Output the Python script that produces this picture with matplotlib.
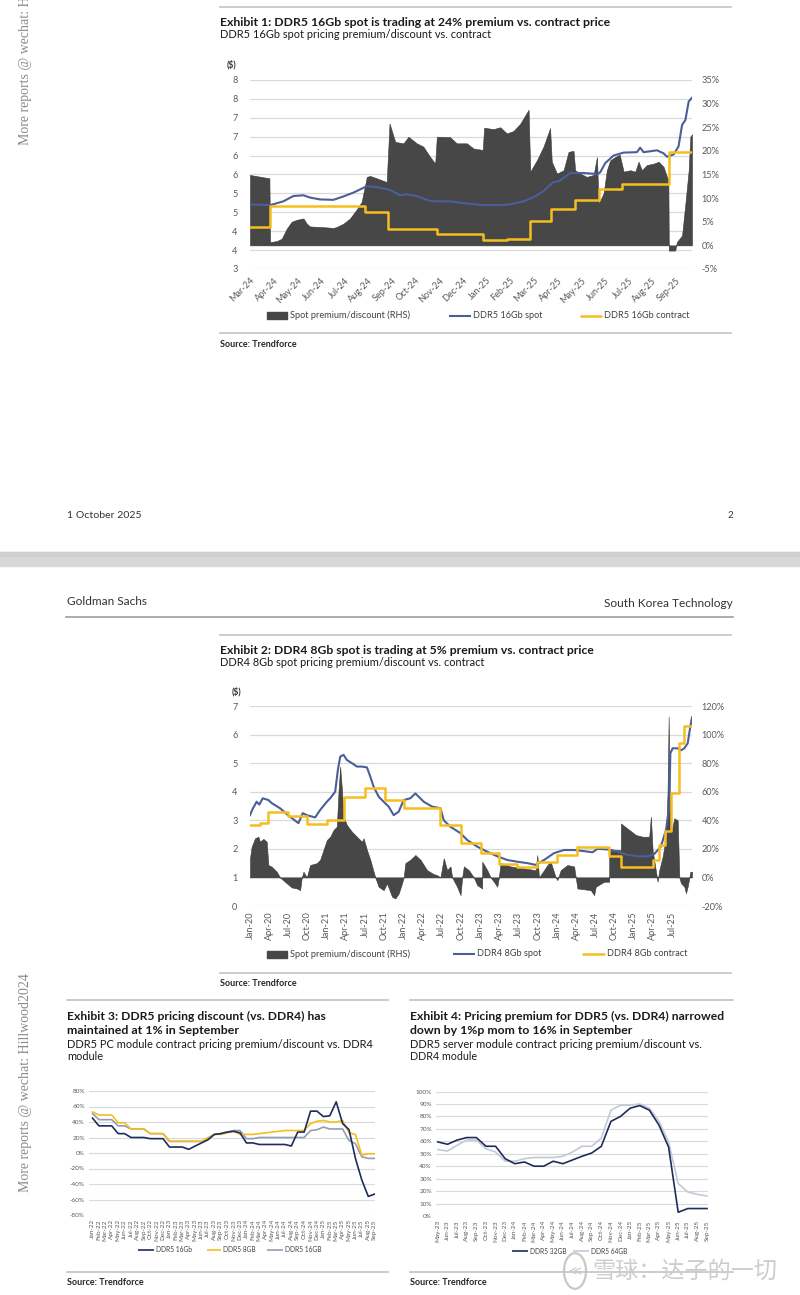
import numpy as np
import pandas as pd
import matplotlib
matplotlib.use("Agg")
import matplotlib.pyplot as plt
from matplotlib.lines import Line2D
from matplotlib.patches import Rectangle, Circle

plt.rcParams["font.family"] = ["Lato", "DejaVu Sans"]

# ---------------- data ----------------
# Exhibit 1: DDR5 16Gb, x = months since Mar-24
ex1_labels = pd.date_range("2024-03-01", "2025-09-01", freq="MS").strftime("%b-%y")
ex1_end = 18.69
ex1_spot_t = [0.0, 0.85, 1.41, 1.83, 2.26, 2.54, 2.96, 3.53, 3.95, 4.37, 4.94, 5.36, 5.92, 6.35,
              6.63, 7.05, 7.62, 7.90, 8.46, 9.03, 9.87, 10.58, 11.0, 11.57, 11.99, 12.41, 12.83,
              13.05, 13.26, 13.54, 14.1, 14.53, 14.67, 14.81, 15.02, 15.37, 15.80, 16.36, 16.5,
              16.64, 17.21, 17.49, 17.63, 17.91, 18.12, 18.27, 18.41, 18.55, 18.69]
ex1_spot = [4.71, 4.69, 4.79, 4.93, 4.95, 4.89, 4.84, 4.83, 4.92, 5.02, 5.19, 5.17, 5.09, 4.95,
            4.98, 4.93, 4.80, 4.79, 4.79, 4.74, 4.69, 4.69, 4.71, 4.79, 4.90, 5.06, 5.30, 5.32,
            5.41, 5.54, 5.54, 5.52, 5.50, 5.56, 5.80, 6.00, 6.08, 6.09, 6.21, 6.09, 6.14, 6.06,
            5.97, 6.03, 6.24, 6.81, 6.94, 7.43, 7.53]
ex1_contract_t = [0.0, 0.85, 4.87, 5.85, 7.90, 9.87, 10.86, 11.82, 12.72, 13.75, 14.74, 15.75, 17.70]
ex1_contract = [4.10, 4.67, 4.51, 4.05, 3.92, 3.76, 3.80, 4.27, 4.60, 4.82, 5.11, 5.25, 6.09]
ex1_prem_t = [0.0, 0.82, 0.85, 1.13, 1.34, 1.55, 1.76, 1.97, 2.26, 2.40, 2.54, 2.96, 3.53, 3.67,
              3.95, 4.23, 4.51, 4.72, 4.94, 5.08, 5.36, 5.78, 5.90, 6.14, 6.49, 6.70, 7.05, 7.33,
              7.62, 7.83, 7.90, 8.46, 8.74, 9.17, 9.45, 9.84, 9.90, 10.30, 10.58, 10.86, 11.14,
              11.42, 11.78, 11.85, 12.13, 12.41, 12.69, 12.76, 12.98, 13.26, 13.47, 13.68, 13.75,
              13.96, 14.24, 14.53, 14.67, 14.74, 14.95, 15.09, 15.23, 15.44, 15.63, 15.80, 16.08,
              16.29, 16.43, 16.57, 16.78, 17.07, 17.28, 17.49, 17.63, 17.69, 17.71, 17.98, 18.05,
              18.27, 18.41, 18.55, 18.62, 18.69]
ex1_prem = [14.9, 14.2, 0.7, 0.9, 1.4, 3.5, 5.0, 5.4, 5.7, 4.6, 4.0, 3.9, 3.7, 3.9, 4.6, 5.7, 7.6,
            9.2, 14.5, 14.7, 14.2, 13.4, 25.8, 21.9, 21.6, 23.0, 21.6, 20.9, 18.7, 17.3, 23.0, 22.9,
            21.6, 21.6, 20.5, 20.2, 24.9, 24.6, 25.0, 23.7, 24.2, 25.7, 28.7, 15.6, 18.0, 20.9,
            24.8, 17.7, 15.2, 15.9, 19.8, 20.0, 15.9, 15.2, 14.5, 14.9, 18.7, 8.8, 11.0, 15.9, 18.0,
            18.7, 19.2, 15.6, 15.9, 15.6, 17.7, 15.9, 17.0, 17.3, 17.7, 16.6, 14.5, 14.0, -1.1,
            -1.1, 0.7, 2.1, 8.8, 15.9, 23.0, 23.5]

# Exhibit 2: DDR4 8Gb, x = months since Jan-20
ex2_labels = pd.date_range("2020-01-01", "2025-07-01", freq="QS").strftime("%b-%y")
ex2_end = 69.12
ex2_spot_t = [0, 0.42, 1.04, 1.46, 1.99, 2.87, 3.40, 4.70, 6.27, 7.58, 8.25, 8.88, 10.19, 10.97,
              12.02, 12.54, 13.32, 13.74, 14.11, 14.63, 15.15, 15.94, 16.72, 17.50, 18.29, 18.81,
              19.33, 20.11, 20.90, 21.68, 22.47, 23.25, 24.03, 25.08, 25.86, 27.17, 28.47, 29.78,
              30.30, 31.35, 32.92, 33.96, 35.53, 37.10, 38.66, 40.23, 41.80, 43.36, 44.67, 45.98,
              47.54, 49.11, 50.68, 52.25, 53.55, 54.34, 55.90, 57.47, 59.04, 60.61, 62.17, 63.22,
              64.26, 65.05, 65.57, 65.73, 66.09, 66.88, 67.40, 67.92, 68.44, 68.86, 69.12]
ex2_spot = [3.18, 3.40, 3.65, 3.55, 3.77, 3.71, 3.60, 3.42, 3.12, 2.90, 3.25, 3.18, 3.10, 3.36,
            3.65, 3.77, 4.00, 4.76, 5.23, 5.29, 5.11, 5.00, 4.88, 4.88, 4.85, 4.53, 4.18, 3.83,
            3.65, 3.48, 3.18, 3.30, 3.71, 3.77, 3.94, 3.65, 3.48, 3.42, 3.00, 2.77, 2.55, 2.31,
            2.08, 1.90, 1.74, 1.61, 1.55, 1.50, 1.44, 1.61, 1.85, 1.96, 1.96, 1.92, 1.88, 2.00,
            1.98, 1.90, 1.79, 1.74, 1.74, 1.82, 2.08, 2.66, 3.48, 5.34, 5.52, 5.52, 5.45, 5.52,
            5.69, 6.28, 6.60]
ex2_contract_t = [0, 1.57, 2.87, 6.01, 8.88, 12.02, 14.63, 18.03, 21.16, 24.03, 29.78, 32.92,
                  36.05, 38.92, 41.80, 44.93, 48.07, 51.20, 56.17, 58.0, 62.96, 64.0, 64.89,
                  65.83, 67.14, 67.92]
ex2_contract = [2.83, 2.89, 3.28, 3.16, 2.87, 3.01, 3.83, 4.12, 3.71, 3.42, 2.83, 2.21, 1.86,
                1.46, 1.38, 1.55, 1.79, 2.08, 1.74, 1.38, 1.61, 2.14, 2.61, 3.94, 5.69, 6.31]
ex2_prem_t = [0, 0.26, 0.78, 1.31, 1.57, 2.09, 2.61, 2.87, 3.40, 4.18, 4.70, 5.75, 6.53, 7.31,
              7.84, 8.10, 8.36, 8.88, 9.40, 10.45, 10.97, 11.49, 12.02, 12.54, 13.06, 13.58,
              13.84, 14.10, 14.40, 14.63, 15.15, 15.94, 16.72, 17.50, 17.76, 18.29, 18.81, 19.33,
              19.59, 20.11, 20.90, 21.42, 22.21, 22.73, 23.25, 23.77, 24.03, 24.29, 25.08, 25.86,
              26.65, 27.69, 28.73, 29.26, 29.78, 30.30, 30.83, 31.35, 31.61, 32.39, 32.92, 33.18,
              33.44, 34.22, 35.00, 35.53, 36.31, 36.32, 37.10, 37.62, 38.14, 38.66, 38.92, 39.18,
              40.75, 42.84, 44.67, 44.93, 45.19, 45.98, 46.50, 47.02, 47.80, 48.07, 48.59, 49.63,
              50.68, 50.94, 51.20, 53.29, 53.81, 54.07, 55.38, 56.17, 56.18, 57.99, 58.00, 60.35,
              61.39, 62.43, 62.69, 62.96, 63.74, 64.00, 64.52, 65.05, 65.30, 65.47, 65.60, 65.83,
              66.36, 66.88, 67.14, 67.40, 67.92, 68.18, 68.44, 68.71, 68.86, 69.12]
ex2_prem = [13.4, 21.5, 27.4, 28.5, 25.0, 27.0, 25.0, 8.7, 7.5, 4.0,
            0, -4.1, -7.0, -7.7, -8.9, 0, 4.0, 0, 8.7, 10.0,
            12.4, 19.3, 26.2, 28.5, 33.2, 35.6, 60, 77.5, 60, 42.5,
            36.7, 32.0, 28.5, 25.0, 27.4, 19.2, 12.4, 4.0, 0, -6.5,
            -8.9, -4.1, -13.5, -14.7, -11.3, -4.1, 0, 10.0, 12.4, 15.7,
            12.4, 5.1, 2.3, 1.6, 0, 13.4, 5.1, 7.7, 0, -6.5,
            -12.4, 0, 7.7, 5.1, 0, -5.4, -7.7, 11.0, 5.1, 0,
            -3.0, -6.5, 0, 10.0, 7.7, 6.3, 5.1, 15.7, 0, 5.1,
            8.7, 11.0, 0, -1.9, 5.1, 8.7, 7.7, 0, -7.7, -8.9,
            -12.4, -6.5, -3.0, -3.0, 19.8, 19.0, 37.8, 29.7, 28.5, 28.5,
            42.5, 19.0, -3.0, 5.1, 14.4, 28.5, 60, 112.5, 60, 30.8,
            41.4, 40.0, 0, -4.1, -6.5, -11.0, -6.5, 0, 4.0, 4.0]

# Exhibit 3: PC module premium/discount (%), monthly Jan-22..Sep-25
ex3_labels = pd.date_range("2022-01-01", "2025-09-01", freq="MS").strftime("%b-%y")
ex3_ddr5_16gb_navy = [45, 35, 35, 35, 25, 25, 20, 20, 20, 18.5, 18.5, 18.5, 7.7, 7.7, 7.7, 4.7,
                      9, 13, 17, 24, 25, 27, 28, 26, 13, 13, 11, 11, 11, 11, 11, 9, 27, 27, 54,
                      54, 47, 48, 66, 38, 30, -7, -35, -56, -53]
ex3_ddr5_8gb = [53, 49, 49, 49, 39, 39, 31, 31, 31, 25, 25, 25, 15, 15, 15, 15, 15, 15, 20, 24,
                24, 26, 28, 24, 24, 24, 25, 26, 27, 28, 29, 29, 29, 29, 38, 41, 42, 40, 40, 42,
                26, 24, -3, -1, -1]
ex3_ddr5_16gb_gray = [51, 43, 43, 43, 35, 35, 31, 31, 31, 25, 25, 25, 15, 15, 15, 15, 15, 15, 19,
                      24, 25, 27, 29, 29, 18.5, 18.5, 20, 20, 20, 20, 20, 20, 20, 20, 29, 30,
                      33.5, 31, 31, 31, 16, 12, -5, -7, -7]

# Exhibit 4: server module premium (%), monthly May-23..Sep-25
ex4_labels = pd.date_range("2023-05-01", "2025-09-01", freq="MS").strftime("%b-%y")
ex4_ddr5_32gb = [59.5, 57.6, 61, 63, 63, 56, 56, 46, 42, 43.4, 40, 40, 44, 42, 45, 48, 50.6, 56,
                 76, 80, 86.6, 88.7, 85, 73, 55.4, 3, 6, 6, 6]
ex4_ddr5_64gb = [53.3, 52.2, 56.8, 61, 61, 54, 51.4, 44, 44, 46, 47, 47, 47, 48, 51.4, 56, 56,
                 62.5, 85, 89, 89, 90, 86.6, 76, 59.5, 26, 19.3, 17.4, 16]

# ---------------- style ----------------
W, H = 800, 1295
TXT = "#1a1a1a"
TICK = "#595959"
GRID = "#d9d9d9"
RULE = "#c4c4c4"
AREA = "#474747"
BLUE = "#4a5f9a"
YELLOW = "#f5be1e"
NAVY = "#1f2c5c"
GRAYBLUE = "#929db5"
LIGHT = "#c2c9d8"
SERIF = ["Liberation Serif", "DejaVu Serif"]

fig = plt.figure(figsize=(W / 100, H / 100), dpi=100)
renderer = fig.canvas.get_renderer()


def fy(y):
    return 1 - y / H


def rect(l, t, r, b):
    return [l / W, 1 - b / H, (r - l) / W, (b - t) / H]


def put(x, y, s, size, width=None, **kw):
    kw.setdefault("color", TXT)
    kw.setdefault("va", "baseline")
    t = fig.text(x / W, fy(y), s, fontsize=size, **kw)
    if width:
        w = t.get_window_extent(renderer).width
        t.set_fontsize(size * width / w)
    return t


def hrule(x0, x1, y, color=RULE, lw=1.2):
    fig.add_artist(Line2D([x0 / W, x1 / W], [fy(y), fy(y)], color=color, lw=lw))


def leg_line(x0, x1, y, color, lw, label, size):
    fig.add_artist(Line2D([x0 / W, x1 / W], [fy(y), fy(y)], color=color, lw=lw,
                          solid_capstyle="butt"))
    put(x1 + 2, y, label, size, va="center", color="#404040")


def leg_patch(x0, x1, y, h, label, size):
    fig.add_artist(Rectangle((x0 / W, fy(y + h / 2)), (x1 - x0) / W, h / H, color=AREA))
    put(x1 + 3, y, label, size, va="center", color="#404040")


def clean(ax):
    for s in ax.spines.values():
        s.set_visible(False)
    ax.tick_params(length=0, colors=TICK)


def dual_chart(box, xmax, area_t, area_v, rlim, rticks, llim, lticks, llabels,
               spot_t, spot, con_t, con, xticks, xlabels, xrot, xpad):
    axa = fig.add_axes(rect(*box))
    axl = fig.add_axes(rect(*box))
    axl.patch.set_visible(False)
    axa.fill_between(area_t, 0, area_v, color=AREA, lw=0.4, edgecolor="#3a3a3a", zorder=2)
    axa.set_xlim(0, xmax)
    axa.set_ylim(*rlim)
    axa.yaxis.tick_right()
    axa.set_yticks(rticks)
    axa.set_yticklabels([f"{v}%" for v in rticks], fontsize=6.6)
    axa.tick_params(axis="y", pad=7)
    axa.set_xticks([])
    clean(axa)
    axl.plot(spot_t, spot, color=BLUE, lw=1.5, zorder=3)
    axl.step(list(con_t) + [xmax], list(con) + [con[-1]], where="post", color=YELLOW, lw=1.8,
             zorder=4)
    axl.set_xlim(0, xmax)
    axl.set_ylim(*llim)
    axl.set_yticks(lticks)
    axl.set_yticklabels(llabels, fontsize=6.6)
    axl.tick_params(axis="y", pad=9)
    axl.set_xticks(xticks)
    if xrot == 45:
        axl.set_xticklabels(xlabels, rotation=45, ha="right", va="top",
                            rotation_mode="anchor", fontsize=6.6)
    else:
        axl.set_xticklabels(xlabels, rotation=90, ha="center", va="top", fontsize=6.6)
    axl.tick_params(axis="x", pad=xpad)
    clean(axl)
    # gridlines follow the left ($) scale but sit behind the area
    for v in lticks:
        axa.plot([0, 1], [v, v], transform=axl.get_yaxis_transform(), color=GRID, lw=0.9,
                 zorder=1)
    return axa, axl


# ---------------- page backgrounds ----------------
fig.add_artist(Rectangle((0, fy(566)), 1, 14 / H, color="#d8d8d8", zorder=0))
fig.add_artist(Rectangle((0, fy(556)), 1, 4 / H, color="#cfcfcf", zorder=0))

# ---------------- Exhibit 1 ----------------
hrule(220, 731, 7)
put(220, 26.5, "Exhibit 1: DDR5 16Gb spot is trading at 24% premium vs. contract price", 8,
    width=390, weight="bold")
put(220, 38.5, "DDR5 16Gb spot pricing premium/discount vs. contract", 7, width=270)
put(227, 67, "($)", 6.3, weight="bold", color="#333333")
l1 = np.arange(3, 8.01, 0.5)
dual_chart((250, 80, 692, 269), ex1_end, ex1_prem_t, ex1_prem, (-5, 35), range(-5, 36, 5),
           (3, 8), l1, [str(int(np.floor(v + 0.5))) for v in l1],
           ex1_spot_t, ex1_spot, ex1_contract_t, ex1_contract,
           range(len(ex1_labels)), ex1_labels, 45, 5)
leg_patch(267, 287, 315.5, 7, "Spot premium/discount (RHS)", 6.6)
leg_line(449, 471, 315.5, BLUE, 1.5, "DDR5 16Gb spot", 6.6)
leg_line(580, 602, 315.5, YELLOW, 1.8, "DDR5 16Gb contract", 6.6)
hrule(220, 731, 333)
put(220, 347, "Source: Trendforce", 6.5, weight="bold", color="#262626")

put(67, 517.5, "1 October 2025", 7, width=74, color="#333333")
put(733, 517.5, "2", 7, ha="right", color="#333333")

# ---------------- page 2 header ----------------
put(67, 605, "Goldman Sachs", 7.5, width=80, color="#333333")
put(733, 607, "South Korea Technology", 7.5, width=127, ha="right", color="#333333")
hrule(66, 733, 616.5, color="#a6a6a6", lw=1.3)

# ---------------- Exhibit 2 ----------------
hrule(220, 731, 635)
put(220, 653.5, "Exhibit 2: DDR4 8Gb spot is trading at 5% premium vs. contract price", 8,
    width=372, weight="bold")
put(220, 666.5, "DDR4 8Gb spot pricing premium/discount vs. contract", 7, width=263)
put(232, 694, "($)", 6.3, weight="bold", color="#333333")
dual_chart((250, 706, 692, 906), ex2_end, ex2_prem_t, ex2_prem, (-20, 120), range(-20, 121, 20),
           (0, 7), range(0, 8), [str(v) for v in range(0, 8)],
           ex2_spot_t, ex2_spot, ex2_contract_t, ex2_contract,
           range(0, 3 * len(ex2_labels), 3), ex2_labels, 90, 4)
leg_patch(267, 287, 954, 7, "Spot premium/discount (RHS)", 6.6)
leg_line(453, 475, 954, BLUE, 1.5, "DDR4 8Gb spot", 6.6)
leg_line(582, 605, 954, YELLOW, 1.8, "DDR4 8Gb contract", 6.6)
hrule(220, 731, 973)
put(220, 986, "Source: Trendforce", 6.5, weight="bold", color="#262626")


# ---------------- Exhibits 3 and 4 ----------------
def small_chart(box, xlim, ylim, yticks, labels, series):
    ax = fig.add_axes(rect(*box))
    for vals, color in series:
        ax.plot(range(len(vals)), vals, color=color, lw=1.2)
    ax.set_xlim(*xlim)
    ax.set_ylim(*ylim)
    ax.set_yticks(yticks)
    ax.set_yticklabels([f"{v}%" for v in yticks], fontsize=4.6)
    ax.set_xticks(range(len(labels)))
    ax.set_xticklabels(labels, rotation=90, fontsize=4.6)
    ax.tick_params(axis="y", pad=3)
    ax.tick_params(axis="x", pad=3)
    ax.grid(axis="y", color=GRID, lw=0.8)
    ax.set_axisbelow(True)
    clean(ax)
    return ax


hrule(67, 388, 1000)
put(67, 1020, "Exhibit 3: DDR5 pricing discount (vs. DDR4) has", 8, width=258, weight="bold")
put(67, 1034, "maintained at 1% in September", 8, width=174, weight="bold")
put(67, 1047.5, "DDR5 PC module contract pricing premium/discount vs. DDR4", 7, width=305)
put(67, 1059.5, "module", 7, width=36)
small_chart((89, 1091, 375, 1215), (-0.55, 44.05), (-80, 80), range(-80, 81, 20), ex3_labels,
            [(ex3_ddr5_16gb_gray, GRAYBLUE), (ex3_ddr5_8gb, YELLOW),
             (ex3_ddr5_16gb_navy, NAVY)])
leg_line(138, 154, 1250, NAVY, 1.2, "DDR5 16Gb", 4.8)
leg_line(207, 221, 1250, YELLOW, 1.2, "DDR5 8GB", 4.8)
leg_line(267, 283, 1250, GRAYBLUE, 1.2, "DDR5 16GB", 4.8)
hrule(67, 388, 1272)
put(67, 1285, "Source: Trendforce", 6.5, weight="bold", color="#262626")

hrule(410, 733, 1000)
put(410, 1020, "Exhibit 4: Pricing premium for DDR5 (vs. DDR4) narrowed", 8, width=313,
    weight="bold")
put(410, 1034, "down by 1%p mom to 16% in September", 8, width=222, weight="bold")
put(410, 1047.5, "DDR5 server module contract pricing premium/discount vs.", 7, width=292)
put(410, 1059.5, "DDR4 module", 7, width=67)
small_chart((436, 1091.5, 708, 1216), (-0.2, 28.1), (0, 100), range(0, 101, 10), ex4_labels,
            [(ex4_ddr5_64gb, LIGHT), (ex4_ddr5_32gb, NAVY)])
leg_line(512, 528, 1251, NAVY, 1.2, "DDR5 32GB", 4.8)
leg_line(573, 589, 1251, LIGHT, 1.2, "DDR5 64GB", 4.8)
hrule(410, 733, 1272)
put(410, 1285, "Source: Trendforce", 6.5, weight="bold", color="#262626")

# ---------------- watermarks ----------------
wm = "More reports @ wechat: Hillwood2024"
put(25, 145, wm, 10, rotation=90, ha="left", va="center", color="#8a8a8a",
    family=SERIF, rotation_mode="anchor")
put(25, 1192, wm, 10, rotation=90, ha="left", va="center", color="#8a8a8a",
    family=SERIF, rotation_mode="anchor")
fig.add_artist(Circle((575 / W, fy(1271)), 11 / W, fill=False, ec="#c8c8c8", lw=1.6,
                      transform=fig.transFigure))
put(575, 1271, "≪", 9, ha="center", va="center", color="#c8c8c8")
put(592, 1271, "雪球：达子的一切", 15, width=185, va="center", color="#cdcdcd",
    family=["Noto Sans CJK SC", "DejaVu Sans"])

fig.savefig("out.png", dpi=100)
